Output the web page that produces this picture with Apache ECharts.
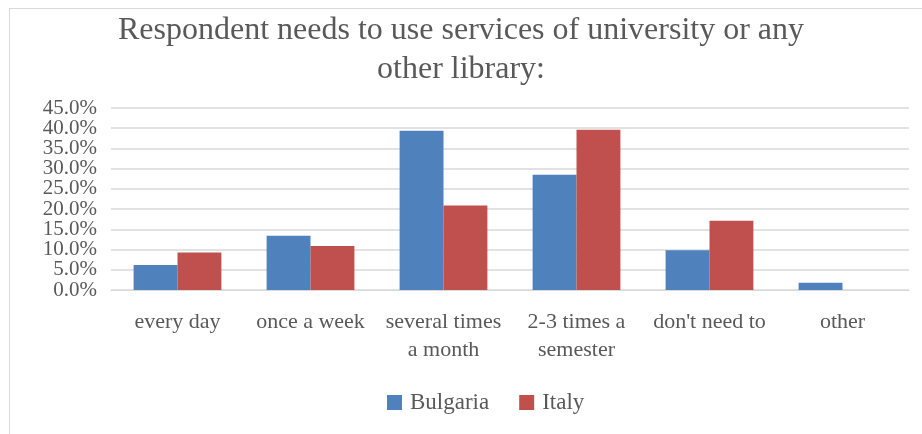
<!DOCTYPE html>
<html><head><meta charset="utf-8">
<script src="https://cdn.jsdelivr.net/npm/echarts@6/dist/echarts.min.js"></script>
<style>html,body{margin:0;padding:0;background:#fff}#c{width:922px;height:434px}</style>
</head><body><div id="c"></div>
<script>
const categories = ['every day', 'once a week', 'several times\na month', '2-3 times a\nsemester', "don't need to", 'other'];
const bulgaria = [6.2, 13.4, 39.4, 28.5, 9.8, 1.8];
const italy = [9.3, 10.9, 20.9, 39.6, 17.1, 0];
const seriesNames = ['Bulgaria', 'Italy'];
const titleText = 'Respondent needs to use services of university or any\nother library:';
const yMin = 0, yMax = 45, yStep = 5;

const font = '"Liberation Serif", "Times New Roman", serif';
const labelStyle = { fontFamily: font, fontSize: 21, color: '#595959', margin: 14, showMinLabel: true, showMaxLabel: true };
function yAxisFor(parity, showGrid) {
  return {
    type: 'value', min: yMin, max: yMax, interval: yStep, position: 'left',
    axisLine: { show: false }, axisTick: { show: false },
    splitLine: { show: showGrid, lineStyle: { color: '#d9d9d9', width: 1.5 } },
    axisLabel: Object.assign({}, labelStyle, {
      formatter: v => (Math.round(v / yStep) % 2 === parity) ? v.toFixed(1) + '%' : ''
    })
  };
}
const chart = echarts.init(document.getElementById('c'));
chart.setOption({
  animation: false,
  textStyle: { fontFamily: font },
  title: {
    text: titleText, left: 'center', top: 6, padding: [5, 5, 5, 27],
    textStyle: { fontFamily: font, fontWeight: 'normal', fontSize: 32, color: '#595959', lineHeight: 39 }
  },
  graphic: [
    { type: 'line', shape: { x1: 9.5, y1: 8.5, x2: 922, y2: 8.5 }, style: { stroke: '#d9d9d9', lineWidth: 1 } },
    { type: 'line', shape: { x1: 9.5, y1: 8.5, x2: 9.5, y2: 434 }, style: { stroke: '#d9d9d9', lineWidth: 1 } }
  ],
  legend: {
    data: seriesNames, top: 386, left: 382, itemWidth: 15, itemHeight: 15, itemGap: 30,
    icon: 'rect',
    textStyle: { fontFamily: font, fontSize: 23, color: '#595959', padding: [0, 0, 0, 3] }
  },
  grid: { left: 111, right: 13, top: 108, bottom: 144, containLabel: false },
  xAxis: {
    type: 'category', data: categories,
    axisLine: { show: true, lineStyle: { color: '#d9d9d9' } },
    axisTick: { show: false },
    axisLabel: { fontFamily: font, fontSize: 22, color: '#595959', lineHeight: 28, margin: 18, interval: 0 }
  },
  yAxis: [yAxisFor(0, true), yAxisFor(1, false)],
  series: [
    { name: seriesNames[0], type: 'bar', data: bulgaria, barGap: '0%', barCategoryGap: '34%', itemStyle: { color: '#4f81bd' } },
    { name: seriesNames[1], type: 'bar', data: italy, barGap: '0%', barCategoryGap: '34%', itemStyle: { color: '#c0504d' } }
  ]
});
</script></body></html>
